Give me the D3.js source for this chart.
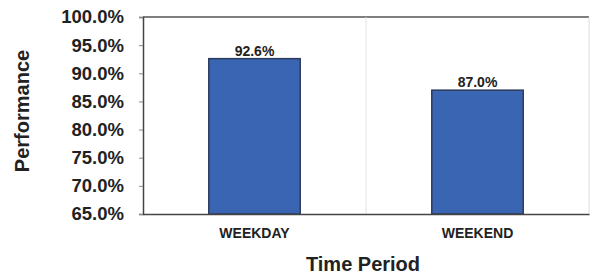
<!DOCTYPE html>
<html lang="en">
<head>
  <meta charset="UTF-8">
  <title>Performance by Time Period</title>
  <style>
    body { margin: 0; background: #fff; }
    text { font-family: "Liberation Sans", Arial, sans-serif; font-weight: bold; fill: #222; }
  </style>
</head>
<body>
  <svg width="591" height="275"></svg>
  <script src="https://d3js.org/d3.v7.min.js"></script>
  <script>
    const periods = ['WEEKDAY', 'WEEKEND'];
    const performance = [92.6, 87.0];
    const yTicks = [65, 70, 75, 80, 85, 90, 95, 100];

    const svg = d3.select('svg');
    const margin = {top: 17, right: 2, bottom: 61, left: 143};
    const width = 591 - margin.left - margin.right;
    const height = 275 - margin.top - margin.bottom;
    const g = svg.append('g').attr('transform', `translate(${margin.left},${margin.top})`);

    const x = d3.scaleBand().domain(periods).range([0, width]).paddingInner(0.59).paddingOuter(0.295);
    const y = d3.scaleLinear().domain([65, 100]).range([height, 0]);

    // frame + category separator
    g.append('line').attr('x1', 0).attr('x2', width).attr('y1', 0).attr('y2', 0)
      .attr('stroke', '#555').attr('stroke-width', 1.5);
    g.append('line').attr('x1', width).attr('x2', width).attr('y1', 0).attr('y2', height)
      .attr('stroke', '#ddd');
    g.append('line').attr('x1', width / 2).attr('x2', width / 2).attr('y1', 0).attr('y2', height)
      .attr('stroke', '#e4e4e4');

    g.selectAll('rect.bar').data(periods).enter()
      .append('rect')
      .attr('class', 'bar')
      .attr('x', d => x(d))
      .attr('width', x.bandwidth())
      .attr('y', (d, i) => y(performance[i]))
      .attr('height', (d, i) => height - y(performance[i]))
      .attr('fill', '#3a65b3')
      .attr('stroke', '#2c3a5c')
      .attr('stroke-width', 1.5);

    g.selectAll('text.val').data(periods).enter()
      .append('text')
      .attr('class', 'val')
      .attr('x', d => x(d) + x.bandwidth() / 2)
      .attr('y', (d, i) => y(performance[i]) - 3)
      .attr('text-anchor', 'middle')
      .style('font-size', '14px')
      .text((d, i) => performance[i].toFixed(1) + '%');

    const yAxis = g.append('g')
      .call(d3.axisLeft(y).tickValues(yTicks).tickSize(4).tickPadding(15).tickFormat(d => d.toFixed(1) + '%'));
    yAxis.select('.domain').attr('stroke', '#444').attr('stroke-width', 1.5);
    yAxis.selectAll('.tick line').attr('stroke', '#888');
    yAxis.selectAll('.tick text').style('font-size', '18.5px').attr('fill', '#222');

    const xAxis = g.append('g')
      .attr('transform', `translate(0,${height})`)
      .call(d3.axisBottom(x).tickSize(0).tickPadding(14));
    xAxis.select('.domain').attr('stroke', '#444').attr('stroke-width', 1.5);
    xAxis.selectAll('.tick text').style('font-size', '14px').attr('fill', '#222');

    svg.append('text')
      .attr('x', 363).attr('y', 271)
      .attr('text-anchor', 'middle')
      .style('font-size', '20px')
      .text('Time Period');

    svg.append('text')
      .attr('transform', 'translate(29,111) rotate(-90)')
      .attr('text-anchor', 'middle')
      .style('font-size', '20px')
      .text('Performance');
  </script>
</body>
</html>
